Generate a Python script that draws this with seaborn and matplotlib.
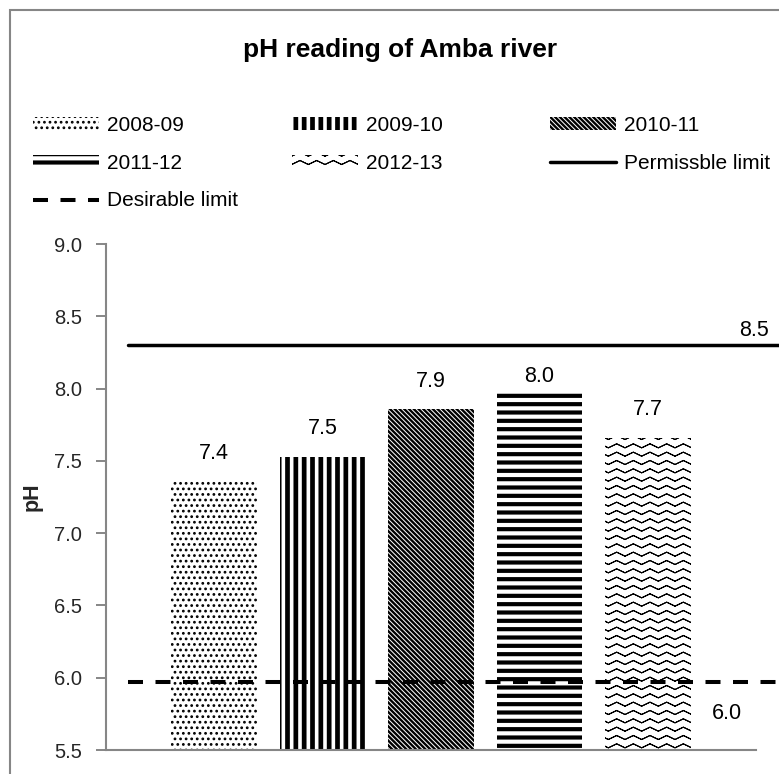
import warnings
import numpy as np
import pandas as pd
import matplotlib
matplotlib.use("Agg")
import matplotlib.pyplot as plt
import seaborn as sns
from matplotlib import hatch as mhatch
from matplotlib import font_manager
from matplotlib.path import Path
from matplotlib.patches import Rectangle

warnings.filterwarnings("ignore")

# values
years = ["2008-09", "2009-10", "2010-11", "2011-12", "2012-13"]
ph = [7.36, 7.53, 7.86, 7.99, 7.66]
permissible_level = 8.30
desirable_level = 5.97
permissible_text = "8.5"
desirable_text = "6.0"
yticks = [5.5, 6.0, 6.5, 7.0, 7.5, 8.0, 8.5, 9.0]


# zig-zag fill like the Excel pattern ('z' in a hatch string).
# each row goes out and back along itself so Agg's hatch fill adds nothing
class ZigZagHatch(mhatch.HatchPatternBase):
    def __init__(self, hatch, density):
        self.num_rows = int(hatch.count("z") * density)
        self.teeth = 6
        n = 2 * self.teeth + 1
        self.num_vertices = self.num_rows * (2 * n - 1)

    def set_vertices_and_codes(self, vertices, codes):
        n = 2 * self.teeth + 1
        m = 2 * n - 1
        xs = np.linspace(0, 1, n)
        amp = 0.48 / self.num_rows
        for r in range(self.num_rows):
            y0 = (r + 0.5) / self.num_rows
            ys = y0 + np.where(np.arange(n) % 2 == 0, amp / 2, -amp / 2)
            vx = np.concatenate([xs, xs[-2::-1]])
            vy = np.concatenate([ys, ys[-2::-1]])
            vertices[r * m:(r + 1) * m, 0] = vx
            vertices[r * m:(r + 1) * m, 1] = vy
            codes[r * m] = Path.MOVETO
            codes[r * m + 1:(r + 1) * m] = Path.LINETO


mhatch._hatch_types.append(ZigZagHatch)

sns.set_style("white")
names = {f.name for f in font_manager.fontManager.ttflist}
fam = "Liberation Sans Narrow" if "Liberation Sans Narrow" in names else "Liberation Sans"
plt.rcParams["font.family"] = [fam, "DejaVu Sans"]
plt.rcParams["lines.scale_dashes"] = False
plt.rcParams["hatch.color"] = "black"
plt.rcParams["text.color"] = "black"

W, H = 779, 774
gray = "#868686"
fig = plt.figure(figsize=(W / 100, H / 100), dpi=100)
ax = fig.add_axes([106 / W, (H - 750) / H, (W - 106) / W, (750 - 244) / H])

df = pd.DataFrame({"year": years, "pH": ph})
sns.barplot(data=df, x="year", y="pH", order=years, width=0.79, color="white",
            saturation=1, edgecolor="black", linewidth=0, errorbar=None, ax=ax)

hatches = ["...", "||", "\\" * 7, "--", "zz"]
hatch_lws = [1.2, 3.4, 1.7, 3.0, 0.75]
bars = list(ax.patches)[:len(years)]
for b, h, hl, lab in zip(bars, hatches, hatch_lws, years):
    b.set_hatch(h)
    if hasattr(b, "set_hatch_linewidth"):
        b.set_hatch_linewidth(hl)
    b.set_label(lab)

x0 = (128 - 106) / (W - 106)
pline = ax.axhline(permissible_level, xmin=x0, xmax=1, color="black", lw=2.5,
                   clip_on=False, label="Permissble limit", zorder=3)
dline = ax.axhline(desirable_level, xmin=x0, xmax=1, color="black", lw=2.9,
                   ls=(0, (10.8, 9.0)), clip_on=False, label="Desirable limit", zorder=3)

label_offsets = [28, 28, 27, 14, 28]
for i, (v, off) in enumerate(zip(ph, label_offsets)):
    ax.annotate(f"{v:.1f}", (i, v), xytext=(0, off), textcoords="offset pixels",
                ha="center", va="center", fontsize=15.5)

ax.annotate(permissible_text, xy=(0.963, permissible_level), xycoords=("axes fraction", "data"),
            xytext=(0, 15), textcoords="offset pixels", ha="center", va="center", fontsize=15.5)
ax.annotate(desirable_text, xy=(0.923, desirable_level), xycoords=("axes fraction", "data"),
            xytext=(0, -31), textcoords="offset pixels", ha="center", va="center", fontsize=15.5)

ax.set_xlim(-0.995, 5.207)
ax.set_ylim(5.5, 9.0)
ax.set_xticks([])
ax.set_xlabel("")
ax.set_yticks(yticks)
ax.set_yticklabels([f"{t:.1f}" for t in yticks])
ax.tick_params(axis="y", length=7.2, width=1.4, color=gray, pad=10, labelsize=14.5,
               direction="out", left=True)
ax.set_ylabel("pH", fontsize=15.5, fontweight="bold")
ax.yaxis.set_label_coords((43 - 106) / (W - 106), 0.5)
for s in ["top", "right"]:
    ax.spines[s].set_visible(False)
for s in ["left", "bottom"]:
    ax.spines[s].set_color(gray)
    ax.spines[s].set_linewidth(1.5)
ax.spines["bottom"].set_bounds(-0.995, 4.995)

fig.text(400 / W, 1 - 50 / H, "pH reading of Amba river", ha="center", va="center",
         fontsize=19, fontweight="bold")

leg_kw = dict(frameon=False, fontsize=15, handlelength=3.15, handleheight=0.56,
              handletextpad=0.4, labelspacing=0.9, borderpad=0, borderaxespad=0,
              loc="upper left", bbox_transform=fig.transFigure)
columns = [([bars[0], bars[3], dline], 33), ([bars[1], bars[4]], 292), ([bars[2], pline], 550)]
for k, (hs, xpx) in enumerate(columns):
    leg = ax.legend(handles=hs, labels=[h.get_label() for h in hs],
                    bbox_to_anchor=(xpx / W, 1 - 116 / H), **leg_kw)
    for src, dst in zip(hs, leg.legend_handles):
        if hasattr(dst, "set_hatch_linewidth") and hasattr(src, "get_hatch_linewidth"):
            dst.set_hatch_linewidth(src.get_hatch_linewidth())
    if k < len(columns) - 1:
        ax.add_artist(leg)

fig.patches.append(Rectangle((10 / W, -0.5), 2, 1.5 - 10 / H, transform=fig.transFigure,
                             fill=False, edgecolor=gray, lw=1.5))

fig.savefig("out.png", dpi=100)
